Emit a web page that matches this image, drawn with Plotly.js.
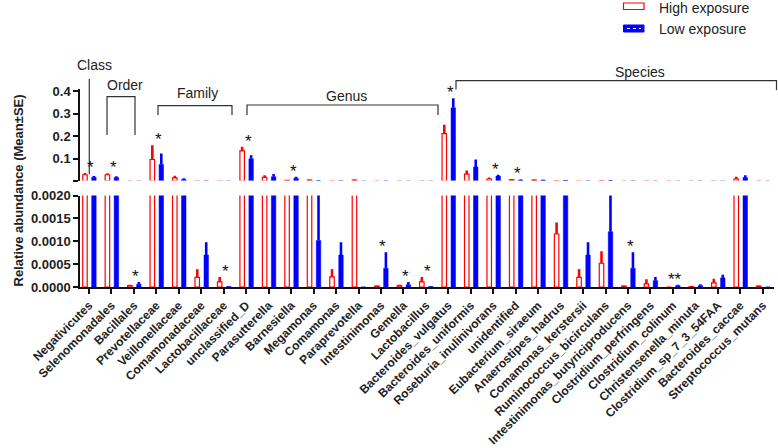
<!DOCTYPE html>
<html>
<head>
<meta charset="utf-8">
<script src="https://cdn.plot.ly/plotly-3.0.1.min.js"></script>
<style>
  body { margin: 0; background: #fff; }
  #plotArea { width: 778px; height: 448px; }
</style>
</head>
<body>
<div id="plotArea"></div>
<script>
// taxa on the x axis
let categories = ["Negativicutes", "Selenomonadales", "Bacillales", "Prevotellaceae", "Veillonellaceae",
  "Comamonadaceae", "Lactobacillaceae", "unclassified_D", "Parasutterella", "Barnesiella", "Megamonas",
  "Comamonas", "Paraprevotella", "Intestinimonas", "Gemella", "Lactobacillus", "Bacteroides_vulgatus",
  "Bacteroides_uniformis", "Roseburia_inulinivorans", "unidentified", "Eubacterium_siraeum",
  "Anaerostipes_hadrus", "Comamonas_kerstersii", "Ruminococcus_bicirculans",
  "Intestinimonas_butyriciproducens", "Clostridium_perfringens", "Clostridium_colinum",
  "Christensenella_minuta", "Clostridium_sp_7_3_54FAA", "Bacteroides_caccae", "Streptococcus_mutans"];

// mean and SE
let highMean = [0.028, 0.028, 0.00003, 0.096, 0.014, 0.00021, 0.00011, 0.134, 0.016, 0.003, 0.004,
  0.00022, 0.004, 0.00002, 0.00003, 0.00011, 0.211, 0.031, 0.009, 0.005, 0.004,
  0.00116, 0.00021, 0.00052, 0.00002, 0.00007, 0.0, 0.00001, 0.00009, 0.009, 0.00002];
let highSE = [0.008, 0.007, 0.00002, 0.063, 0.010, 0.00018, 0.00011, 0.019, 0.010, 0.002, 0.003,
  0.00017, 0.003, 0.00001, 0.00002, 0.00011, 0.040, 0.016, 0.007, 0.004, 0.003,
  0.00025, 0.00018, 0.00026, 0.00001, 0.00010, 0.0, 0.00001, 0.00009, 0.010, 0.00001];
let lowMean = [0.017, 0.016, 0.00006, 0.074, 0.007, 0.0007, 0.00001, 0.099, 0.019, 0.012, 0.00102,
  0.0007, 0.0, 0.00041, 0.00005, 0.00001, 0.326, 0.063, 0.022, 0.004, 0.004,
  0.003, 0.0007, 0.00121, 0.00041, 0.00014, 0.00003, 0.00003, 0.0002, 0.016, 0.0];
let lowSE = [0.005, 0.005, 0.00005, 0.049, 0.006, 0.00028, 0.00001, 0.016, 0.012, 0.007, 0.004,
  0.00028, 0.0, 0.00035, 0.00006, 0.00001, 0.043, 0.033, 0.006, 0.003, 0.002,
  0.002, 0.00028, 0.003, 0.00035, 0.00008, 0.00002, 0.00003, 0.00007, 0.010, 0.0];

// significance marks ("" = none)
let sigLabel = ["*", "*", "*", "*", "", "", "*", "*", "", "*", "", "", "", "*", "*", "*", "*",
  "", "*", "*", "", "", "", "", "*", "", "**", "", "", "", ""];

let zeros = categories.map(() => 0);
let red = "#ff0000";
let blue = "#0000ff";
let font = "Arial, Liberation Sans, sans-serif";

function barTrace(name, y, se, color, filled, xa, ya) {
  return {
    type: "bar", name: name, x: categories, y: y,
    xaxis: xa, yaxis: ya,
    width: 0.2, offset: filled ? 0.12 : -0.28,
    marker: { color: filled ? color : "#ffffff", line: { color: color, width: filled ? 0.5 : 1.2 } },
    error_y: { type: "data", symmetric: false, array: se, arrayminus: zeros,
               color: color, thickness: 2.6, width: 0 },
    hoverinfo: "x+y",
    showlegend: false
  };
}

let data = [
  barTrace("High exposure", highMean, highSE, red, false, "x", "y"),
  barTrace("Low exposure", lowMean, lowSE, blue, true, "x", "y"),
  barTrace("High exposure", highMean, highSE, red, false, "x2", "y2"),
  barTrace("Low exposure", lowMean, lowSE, blue, true, "x2", "y2")
];

// pixel -> paper helpers for the decorations (plot area 80..774 x 89..287)
let px = p => (p - 80) / 694;
let py = p => (287 - p) / 198;

let lineStyle = { color: "#333", width: 1.2 };
let shapes = [
  { type: "line", xref: "paper", yref: "paper", x0: px(89.3), x1: px(89.3), y0: py(79), y1: py(174), line: lineStyle },
  { type: "path", xref: "paper", yref: "paper", line: lineStyle,
    path: `M${px(107)},${py(135)} L${px(107)},${py(96.7)} L${px(135)},${py(96.7)} L${px(135)},${py(135)}` },
  { type: "path", xref: "paper", yref: "paper", line: lineStyle,
    path: `M${px(158)},${py(115)} L${px(158)},${py(105.7)} L${px(232)},${py(105.7)} L${px(232)},${py(115)}` },
  { type: "path", xref: "paper", yref: "paper", line: lineStyle,
    path: `M${px(247)},${py(115)} L${px(247)},${py(105)} L${px(438)},${py(105)} L${px(438)},${py(115)}` },
  { type: "path", xref: "paper", yref: "paper", line: lineStyle,
    path: `M${px(456)},${py(89.5)} L${px(456)},${py(80.7)} L${px(776.5)},${py(80.7)} L${px(776.5)},${py(90)}` },
  // legend swatches
  { type: "rect", xref: "paper", yref: "paper", x0: px(623.5), x1: px(644), y0: py(3), y1: py(9.5),
    fillcolor: "#fff", line: { color: red, width: 1.2 } },
  { type: "rect", xref: "paper", yref: "paper", x0: px(623.5), x1: px(644), y0: py(25), y1: py(32),
    fillcolor: blue, line: { color: blue, width: 1 } },
  { type: "line", xref: "paper", yref: "paper", x0: px(627), x1: px(641), y0: py(28.5), y1: py(28.5),
    line: { color: "#fff", width: 1, dash: "dot" } }
];

let groupFont = { family: font, size: 14, color: "#222" };
let annotations = [
  { text: "Class", x: px(94), y: py(65) },
  { text: "Order", x: px(125), y: py(85) },
  { text: "Family", x: px(197), y: py(93) },
  { text: "Genus", x: px(346), y: py(96) },
  { text: "Species", x: px(640), y: py(72) },
  { text: "High exposure", x: px(657), y: py(7.5), xanchor: "left" },
  { text: "Low exposure", x: px(657), y: py(29), xanchor: "left" }
].map(a => Object.assign({ xref: "paper", yref: "paper", showarrow: false, font: groupFont,
                           xanchor: "center", yanchor: "middle" }, a));

annotations.push({
  text: "<b>Relative abundance (Mean±SE)</b>", xref: "paper", yref: "paper",
  x: px(8), y: py(191), textangle: -90, showarrow: false,
  font: { family: font, size: 13, color: "#222" }
});

// stars sit on top of the taller error bar, in whichever panel that lands
categories.forEach((c, i) => {
  if (!sigLabel[i]) return;
  let top = Math.max(highMean[i] + highSE[i], lowMean[i] + lowSE[i]);
  let lower = top < 0.0019;
  annotations.push({
    text: sigLabel[i], x: c, y: top, xref: lower ? "x" : "x2", yref: lower ? "y" : "y2",
    showarrow: false, yanchor: "bottom", yshift: -6, xshift: 2,
    font: { family: font, size: 17, color: "#111" }
  });
});

let tickFont = { family: font, size: 13, color: "#222", weight: "bold" };
let axisLine = { showline: true, linecolor: "#111", linewidth: 1.5,
                 ticks: "outside", ticklen: 5, tickwidth: 1.5, tickcolor: "#111",
                 showgrid: false, zeroline: false };

let layout = {
  width: 778, height: 448,
  margin: { l: 80, r: 4, t: 89, b: 161 },
  paper_bgcolor: "#fff", plot_bgcolor: "#fff",
  barmode: "overlay",
  xaxis: Object.assign({
    domain: [0, 1], anchor: "y", type: "category", range: [-0.4, 30.5],
    tickangle: -45, tickfont: { family: font, size: 12, color: "#222", weight: "bold" }
  }, axisLine),
  yaxis: Object.assign({
    domain: [0, 0.4616], anchor: "x", range: [0, 0.002],
    tickvals: [0, 0.0005, 0.001, 0.0015, 0.002], tickformat: ".4f", tickfont: tickFont
  }, axisLine),
  xaxis2: {
    domain: [0, 1], anchor: "y2", matches: "x", type: "category",
    showline: false, showticklabels: false, ticks: "", showgrid: false, zeroline: false
  },
  // upper segment of the broken axis starts where the lower one stops
  yaxis2: Object.assign({
    domain: [0.5374, 1], anchor: "x2", range: [0.002, 0.41],
    tickvals: [0.002, 0.1, 0.2, 0.3, 0.4], ticktext: ["", "0.1", "0.2", "0.3", "0.4"], tickfont: tickFont
  }, axisLine),
  shapes: shapes,
  annotations: annotations
};

Plotly.newPlot("plotArea", data, layout, { displayModeBar: false });
</script>
</body>
</html>
